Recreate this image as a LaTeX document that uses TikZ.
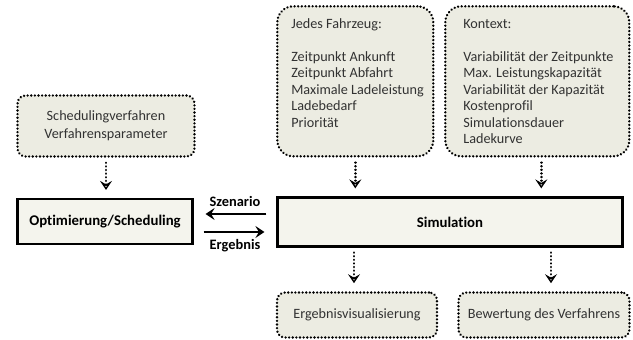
\documentclass[tikz,border=0pt]{standalone}
\usepackage{fontspec}
\setmainfont{Carlito}[Ligatures=NoCommon]
\usetikzlibrary{arrows.meta, positioning, calc}
\definecolor{boxfill}{RGB}{236,236,226}
\definecolor{mainfill}{RGB}{244,244,237}
\definecolor{txtgray}{RGB}{50,50,50}
\hfuzz=50pt

\begin{document}
\begin{tikzpicture}[x=1pt, y=-1pt, >=Stealth,
    font=\fontsize{14.2}{16.5}\selectfont,
    dotline/.style={line width=2.6pt, line cap=round, dash pattern=on 0.01pt off 3.6pt},
    dotbox/.style={draw, dotline, fill=boxfill, rounded corners=8pt, text=txtgray},
    topbox/.style={dotbox, rounded corners=16pt, anchor=north west, minimum height=150pt, inner ysep=11pt},
    mainbox/.style={draw, line width=2.2pt, fill=mainfill, font=\fontsize{14.8}{16}\selectfont\bfseries},
    dotarrow/.style={dotline, -{Stealth[open, length=9pt, width=12pt, inset=3.5pt, line width=1.5pt]}, shorten <=5pt, shorten >=8pt},
    solidarrow/.style={line width=2.2pt, -{Stealth[length=9pt, width=12pt, inset=3.5pt]}, shorten <=10pt, shorten >=12pt},
    arrowlabel/.style={font=\fontsize{14.4}{16}\selectfont\bfseries}
  ]
  \useasboundingbox (0,0) rectangle (633,340);

  % Left side
  \node[dotbox, minimum width=177pt, minimum height=61pt, align=center] (sched) at (106,126) {Schedulingverfahren\\[1.5pt]Verfahrensparameter};
  \node[mainbox, minimum width=175pt, minimum height=45pt] (opt) at (105,221.5) {Optimierung/Scheduling};

  % Inputs of the simulation
  \node[topbox, inner xsep=14pt] (fzg) at (276,5) {\parbox[c][128pt][t]{128pt}{\strut\mbox{Jedes Fahrzeug:}\\[16pt]
      \mbox{Zeitpunkt Ankunft}\\
      \mbox{Zeitpunkt Abfahrt}\\
      \mbox{Maximale Ladeleistung}\\
      \mbox{Ladebedarf}\\
      \mbox{Priorität}}};
  \node[topbox, inner xsep=18pt] (ktx) at (444,5) {\parbox[c][128pt][t]{148pt}{\strut\mbox{Kontext:}\\[16pt]
      \mbox{Variabilität der Zeitpunkte}\\
      \mbox{Max. Leistungskapazität}\\
      \mbox{Variabilität der Kapazität}\\
      \mbox{Kostenprofil}\\
      \mbox{Simulationsdauer}\\
      \mbox{Ladekurve}}};

  \node[mainbox, minimum width=345pt, minimum height=49pt] (sim) at (450,222) {Simulation};

  % Outputs
  \node[dotbox, minimum width=160pt, minimum height=45pt] (vis) at (357,315) {Ergebnisvisualisierung};
  \node[dotbox, minimum width=171pt, minimum height=45pt] (bew) at (544,315) {Bewertung des Verfahrens};

  \draw[dotarrow] (sched.south) -- (sched.south |- opt.north);
  \draw[dotarrow] (fzg.south) -- (fzg.south |- sim.north);
  \draw[dotarrow] ([xshift=4pt]ktx.south) -- ([xshift=4pt]ktx.south |- sim.north);
  \draw[dotarrow] ([xshift=-3pt]vis.north |- sim.south) -- ([xshift=-3pt]vis.north);
  \draw[dotarrow] ([xshift=7pt]bew.north |- sim.south) -- ([xshift=7pt]bew.north);

  \draw[solidarrow] ([yshift=8pt]sim.west) -- ([yshift=8pt]sim.west -| opt.east)
    node[midway, above=3pt, arrowlabel] {Szenario};
  \draw[solidarrow] ([yshift=-10pt]sim.west -| opt.east) -- ([yshift=-10pt]sim.west)
    node[midway, below=3pt, arrowlabel] {Ergebnis};
\end{tikzpicture}
\end{document}
